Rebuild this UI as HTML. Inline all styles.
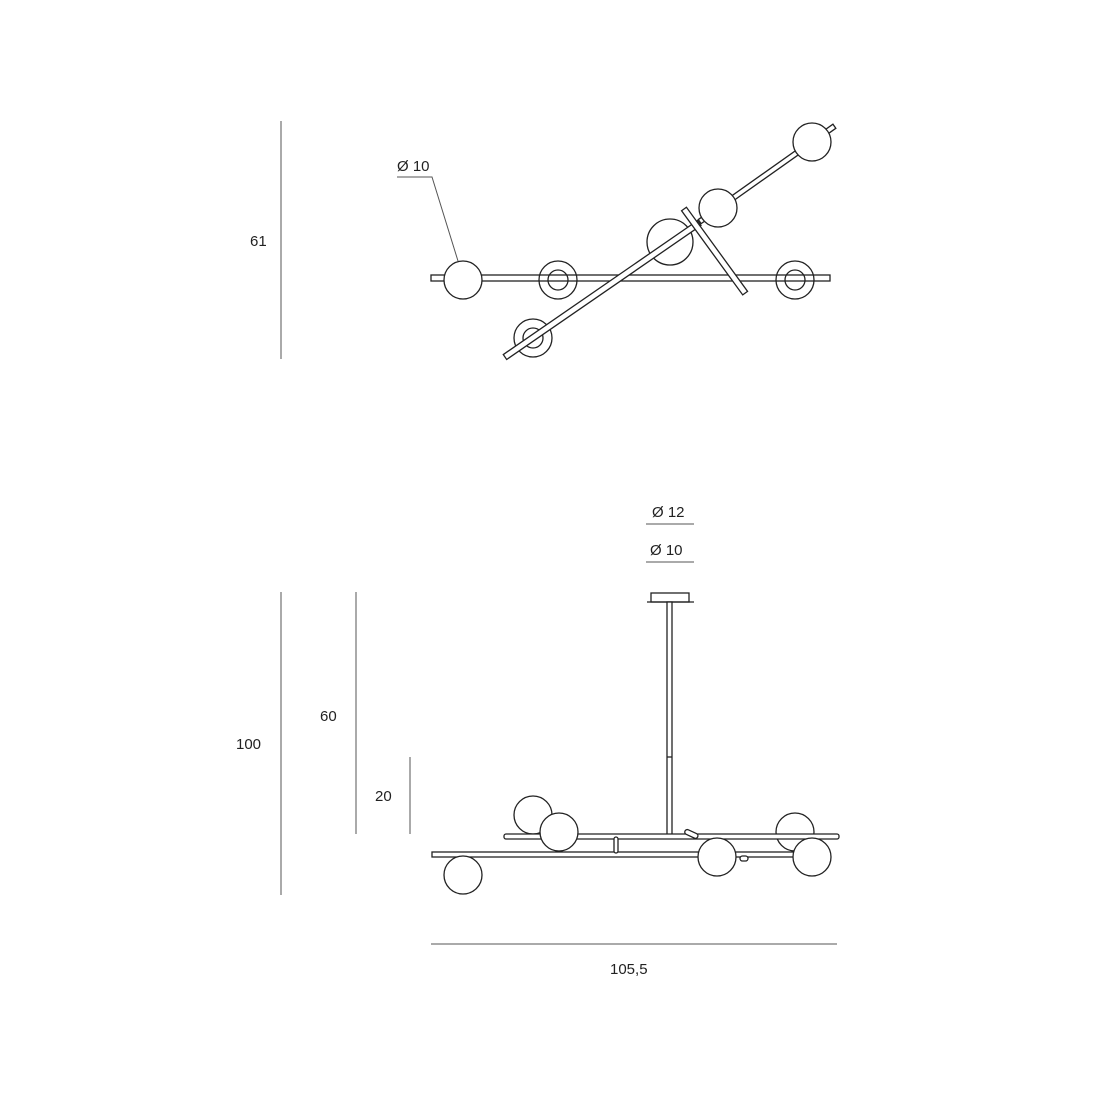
<!DOCTYPE html>
<html><head><meta charset="utf-8"><style>
html,body{margin:0;padding:0;background:#fff;}
svg{display:block}
text{font-family:"Liberation Sans",sans-serif;font-size:15px;fill:#222}
</style></head><body>
<svg width="1100" height="1100" viewBox="0 0 1100 1100" xmlns="http://www.w3.org/2000/svg">
<g stroke="#555" stroke-width="1" fill="none">
<line x1="281" y1="121" x2="281" y2="359"/>
<line x1="281" y1="592" x2="281" y2="895"/>
<line x1="356" y1="592" x2="356" y2="834"/>
<line x1="410" y1="757" x2="410" y2="834"/>
<line x1="431" y1="944" x2="837" y2="944"/>
<line x1="646" y1="524" x2="694" y2="524"/>
<line x1="646" y1="562" x2="694" y2="562"/>
<polyline points="397,177 432,177 458,261"/>
</g>
<text x="250" y="246">61</text>
<text x="236" y="749">100</text>
<text x="320" y="721">60</text>
<text x="375" y="801">20</text>
<text x="610" y="974">105,5</text>
<text x="652" y="517">Ø 12</text>
<text x="650" y="555">Ø 10</text>
<text x="397" y="171">Ø 10</text>

<g stroke="#222" stroke-width="1.3" fill="#fff">
<!-- top view -->
<circle cx="670" cy="242" r="23"/>
<rect x="431" y="275" width="399" height="6"/>
<g fill="none">
<circle cx="558" cy="280" r="19"/><circle cx="558" cy="280" r="10"/>
<circle cx="795" cy="280" r="19"/><circle cx="795" cy="280" r="10"/>
<circle cx="533" cy="338" r="19"/><circle cx="533" cy="338" r="10"/>
</g>
<rect x="0" y="-3" width="236" height="6" transform="translate(505,357) rotate(-34.6)"/>
<rect x="0" y="-3" width="165" height="5" transform="translate(700,222) rotate(-35.3)"/>
<rect x="0" y="-3" width="104" height="6" transform="translate(684,209) rotate(54)"/>
<circle cx="463" cy="280" r="19"/>
<circle cx="718" cy="208" r="19"/>
<circle cx="812" cy="142" r="19"/>

<!-- bottom view -->
<rect x="651" y="593" width="38" height="9"/>
<line x1="647" y1="602" x2="694" y2="602"/>
<rect x="667" y="602" width="5" height="235"/>
<line x1="667" y1="757" x2="672" y2="757"/>
<circle cx="533" cy="815" r="19"/>
<circle cx="795" cy="832" r="19"/>
<rect x="504" y="834" width="335" height="5" rx="2"/>
<rect x="432" y="852" width="368" height="5"/>
<rect x="614" y="837" width="4" height="16" rx="2"/>
<rect x="0" y="-2.5" width="14" height="5" rx="2.5" transform="translate(685,831) rotate(25)"/>
<rect x="740" y="856" width="8" height="5" rx="2.5"/>
<circle cx="559" cy="832" r="19"/>
<circle cx="463" cy="875" r="19"/>
<circle cx="717" cy="857" r="19"/>
<circle cx="812" cy="857" r="19"/>
</g>
</svg>
</body></html>
